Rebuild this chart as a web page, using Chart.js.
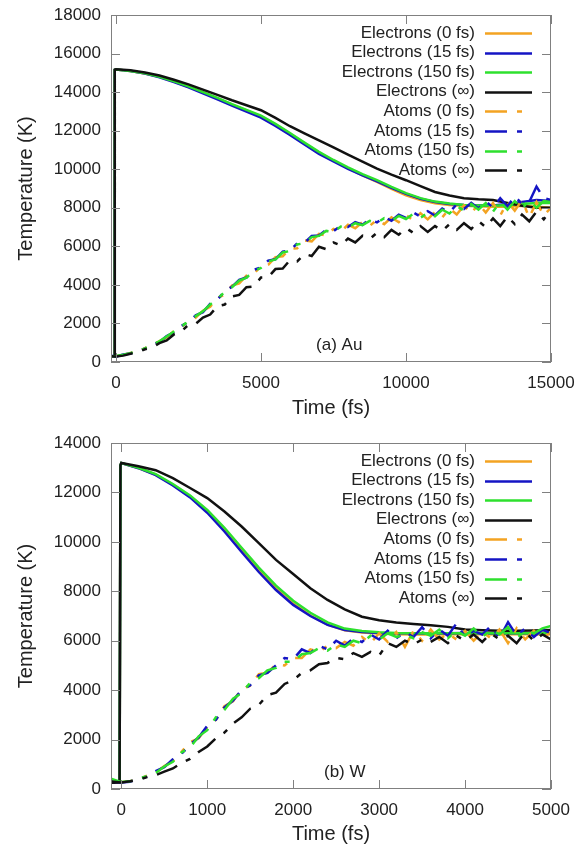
<!DOCTYPE html>
<html>
<head>
<meta charset="utf-8">
<title>Electron and atom temperatures</title>
<script src="https://cdn.jsdelivr.net/npm/chart.js@4.4.0/dist/chart.umd.min.js"></script>
<style>
  body { margin: 0; background: #fff; }
  .panel { width: 578px; height: 426px; }
  canvas { display: block; }
</style>
</head>
<body>
<div class="panel"><canvas id="auChart" width="578" height="426"></canvas></div>
<div class="panel"><canvas id="wChart" width="578" height="426"></canvas></div>
<script>
// === Series labels / colours ===
const seriesLabels = [
  "Electrons (0 fs)", "Electrons (15 fs)", "Electrons (150 fs)", "Electrons (\u221E)",
  "Atoms (0 fs)", "Atoms (15 fs)", "Atoms (150 fs)", "Atoms (\u221E)",
];
const seriesColors = ["#f3a322", "#1414c4", "#2ee02e", "#111111"];

// === (a) Au data ===
const auElecTime = [-170, -60, -40, 0, 500, 1000, 1500, 2000, 2500, 3000,
  3500, 4000, 4500, 5000, 5500, 6000, 6500, 7000, 7500, 8000,
  8500, 9000, 9500, 10000, 10500, 11000, 11500, 12000, 12500, 13000,
  13500, 14000, 14500, 15000];
const auElec0 = [300, 300, 15150, 15170, 15100, 14970, 14790, 14550, 14280, 13980,
  13680, 13350, 13050, 12740, 12310, 11840, 11340, 10860, 10440, 10050,
  9680, 9340, 8980, 8650, 8400, 8230, 8150, 8100, 8080, 8050,
  8050, 8100, 8050, 8000];
const auElec15 = [300, 300, 15150, 15170, 15090, 14960, 14770, 14520, 14250, 13940,
  13630, 13300, 12990, 12680, 12250, 11780, 11280, 10800, 10400, 10020,
  9680, 9370, 9030, 8720, 8470, 8300, 8200, 8140, 8120, 8120,
  8200, 8300, 8400, 8350];
const auElec150 = [300, 300, 15150, 15170, 15100, 14980, 14800, 14560, 14300, 14000,
  13700, 13380, 13080, 12780, 12350, 11880, 11380, 10900, 10480, 10100,
  9750, 9430, 9080, 8760, 8500, 8320, 8220, 8150, 8120, 8100,
  8150, 8200, 8250, 8250];
const auElecInf = [300, 300, 15170, 15190, 15130, 15020, 14860, 14640, 14400, 14130,
  13860, 13580, 13320, 13060, 12660, 12230, 11860, 11500, 11130, 10760,
  10400, 10030, 9720, 9430, 9120, 8820, 8640, 8500, 8440, 8400,
  8250, 8100, 8000, 8000];

const auAtomTime = [-170, 0, 250, 500, 750, 1000, 1250, 1500, 1750, 2000,
  2250, 2500, 2750, 3000, 3250, 3500, 3750, 4000, 4250, 4500,
  4750, 5000, 5250, 5500, 5750, 6000, 6250, 6500, 6750, 7000,
  7250, 7500, 7750, 8000, 8250, 8500, 8750, 9000, 9250, 9500,
  9750, 10000, 10250, 10500, 10750, 11000, 11250, 11500, 11750, 12000,
  12250, 12500, 12750, 13000, 13250, 13500, 13750, 14000, 14250, 14500,
  14750, 15000];
const auAtom0 = [300, 300, 370, 470, 540, 720, 850, 1090, 1270, 1600,
  1790, 2140, 2300, 2660, 2870, 3320, 3500, 3960, 4080, 4480,
  4560, 4980, 5040, 5440, 5480, 5880, 5900, 6300, 6260, 6650,
  6560, 6900, 6760, 7120, 6940, 7260, 7060, 7380, 7150, 7500,
  7250, 7620, 7350, 7720, 7400, 7780, 7500, 7960, 7650, 8120,
  7700, 8200, 7750, 8250, 7600, 8300, 7850, 8400, 7500, 8300,
  7600, 8000];
const auAtom15 = [320, 280, 390, 440, 590, 690, 910, 1040, 1350, 1540,
  1880, 2060, 2420, 2580, 3020, 3230, 3680, 3900, 4260, 4380,
  4780, 4900, 5260, 5330, 5720, 5780, 6160, 6180, 6540, 6560,
  6860, 6780, 7060, 7000, 7260, 7120, 7400, 7240, 7520, 7330,
  7640, 7480, 7760, 7540, 7820, 7600, 7960, 7760, 8180, 7940,
  8260, 7960, 8350, 8000, 8500, 8080, 8600, 8200, 8300, 9100,
  8500, 8400];
const auAtom150 = [300, 310, 380, 460, 570, 710, 880, 1070, 1320, 1580,
  1840, 2110, 2380, 2630, 2980, 3260, 3640, 3880, 4220, 4380,
  4720, 4880, 5220, 5320, 5680, 5760, 6100, 6160, 6480, 6540,
  6800, 6750, 7020, 6960, 7200, 7100, 7320, 7220, 7460, 7320,
  7580, 7420, 7680, 7480, 7740, 7560, 7900, 7700, 8100, 7850,
  8200, 7900, 8250, 7800, 8300, 7900, 8350, 7950, 8400, 8000,
  8350, 8300];
const auAtomInf = [300, 280, 330, 430, 500, 660, 760, 980, 1120, 1430,
  1580, 1930, 1980, 2300, 2460, 2900, 2980, 3400, 3480, 3880,
  3920, 4380, 4400, 4820, 4850, 5280, 5220, 5600, 5500, 5980,
  5850, 6200, 6050, 6400, 6200, 6550, 6380, 6700, 6480, 6850,
  6600, 6950, 6700, 7050, 6750, 7050, 6800, 7150, 6850, 7200,
  6900, 7300, 7000, 7450, 7050, 7550, 7150, 7650, 7300, 7800,
  7400, 7900];

// === (b) W data ===
const wElecTime = [-120, -20, -10, 0, 200, 400, 600, 800, 1000, 1200,
  1400, 1600, 1800, 2000, 2200, 2400, 2600, 2800, 3000, 3200,
  3400, 3600, 3800, 4000, 4200, 4400, 4600, 4800, 5000];
const wElec0 = [250, 250, 13100, 13190, 12990, 12720, 12310, 11840, 11230, 10490,
  9680, 8870, 8120, 7500, 7020, 6650, 6420, 6330, 6290, 6260,
  6250, 6250, 6260, 6270, 6260, 6250, 6260, 6270, 6260];
const wElec15 = [250, 250, 13100, 13190, 12980, 12700, 12280, 11800, 11180, 10420,
  9590, 8780, 8050, 7450, 7000, 6640, 6430, 6350, 6310, 6300,
  6300, 6290, 6300, 6310, 6300, 6290, 6300, 6300, 6300];
const wElec150 = [250, 250, 13100, 13190, 13000, 12740, 12340, 11880, 11290, 10570,
  9760, 8960, 8230, 7620, 7130, 6740, 6490, 6390, 6340, 6310,
  6300, 6300, 6300, 6300, 6300, 6300, 6300, 6300, 6300];
const wElecInf = [250, 250, 13100, 13190, 13060, 12900, 12580, 12180, 11770, 11230,
  10620, 9950, 9270, 8700, 8120, 7650, 7270, 6970, 6830, 6740,
  6680, 6630, 6560, 6450, 6420, 6400, 6400, 6410, 6430];

const wAtomTime = [-120, 0, 100, 200, 300, 400, 500, 600, 700, 800,
  900, 1000, 1100, 1200, 1300, 1400, 1500, 1600, 1700, 1800,
  1900, 2000, 2100, 2200, 2300, 2400, 2500, 2600, 2700, 2800,
  2900, 3000, 3100, 3200, 3300, 3400, 3500, 3600, 3700, 3800,
  3900, 4000, 4100, 4200, 4300, 4400, 4500, 4600, 4700, 4800,
  4900, 5000];
const wAtom0 = [300, 270, 310, 390, 540, 660, 930, 1130, 1500, 1900,
  2050, 2500, 2800, 3350, 3550, 4050, 4180, 4650, 4700, 5050,
  5000, 5300, 5300, 5650, 5550, 5800, 5700, 5950, 5800, 6150,
  5900, 6300, 5950, 6350, 5750, 6400, 6000, 6450, 6050, 6300,
  6050, 6400, 6000, 6350, 6100, 6450, 5900, 6500, 6050, 6400,
  6100, 6350];
const wAtom15 = [300, 260, 290, 420, 500, 720, 880, 1200, 1420, 1800,
  2080, 2560, 2800, 3300, 3580, 4000, 4200, 4600, 4700, 5000,
  5300, 5250, 5650, 5500, 5800, 5650, 6000, 5800, 6100, 5950,
  6250, 6050, 6400, 6100, 6350, 6150, 6550, 6100, 6450, 6200,
  6700, 6150, 6400, 6250, 6600, 6100, 6750, 6200, 6500, 6150,
  6450, 6300];
const wAtom150 = [420, 280, 310, 410, 520, 650, 910, 1100, 1480, 1680,
  2130, 2380, 2900, 3200, 3650, 3880, 4300, 4480, 4800, 4900,
  5150, 5150, 5450, 5500, 5700, 5600, 5850, 5750, 6000, 5900,
  6200, 6050, 6300, 6150, 6250, 6100, 6350, 6200, 6450, 6100,
  6400, 6200, 6500, 6150, 6450, 6250, 6550, 6100, 6400, 6300,
  6500, 6600];
const wAtomInf = [300, 260, 310, 380, 480, 560, 700, 830, 1050, 1220,
  1500, 1720, 2050, 2280, 2650, 2900, 3250, 3400, 3800, 3900,
  4250, 4400, 4700, 4800, 5050, 5100, 5300, 5250, 5500, 5350,
  5550, 5400, 5900, 5750, 6000, 5850, 6050, 5950, 6150, 5900,
  6200, 6000, 6250, 5950, 6300, 6050, 6200, 5900, 6350, 6000,
  6250, 6050];

// === Axis ranges / tick values ===
const auXRange = [-170, 15000];
const auYRange = [0, 18000];
const auXTicks = [0, 5000, 10000, 15000];
const auYTicks = [0, 2000, 4000, 6000, 8000, 10000, 12000, 14000, 16000, 18000];
const wXRange = [-120, 5000];
const wYRange = [0, 14000];
const wXTicks = [0, 1000, 2000, 3000, 4000, 5000];
const wYTicks = [0, 2000, 4000, 6000, 8000, 10000, 12000, 14000];

const TEXT = "#222";
const FONT = "'Liberation Sans', Arial, sans-serif";
const atomDash = [22, 10, 5, 10];

function toPoints(times, vals) {
  return vals.map((v, i) => ({ x: times[i], y: v }));
}

// === Frame + inward tick marks ===
const frameTicks = {
  id: "frameTicks",
  afterDatasetsDraw(chart) {
    const { ctx, chartArea: a, scales } = chart;
    ctx.save();
    ctx.strokeStyle = "#808080";
    ctx.lineWidth = 1;
    ctx.strokeRect(Math.round(a.left) + 0.5, Math.round(a.top) + 0.5,
      Math.round(a.width) - 1, Math.round(a.height) - 1);
    ctx.beginPath();
    scales.x.ticks.forEach((t) => {
      const px = Math.round(scales.x.getPixelForValue(t.value)) + 0.5;
      ctx.moveTo(px, a.bottom); ctx.lineTo(px, a.bottom - 9);
      ctx.moveTo(px, a.top); ctx.lineTo(px, a.top + 9);
    });
    scales.y.ticks.forEach((t) => {
      const py = Math.round(scales.y.getPixelForValue(t.value)) + 0.5;
      ctx.moveTo(a.left, py); ctx.lineTo(a.left + 9, py);
      ctx.moveTo(a.right, py); ctx.lineTo(a.right - 9, py);
    });
    ctx.stroke();
    ctx.restore();
  },
};

// === Key in the upper right, text then line sample ===
const sideKey = {
  id: "sideKey",
  afterDraw(chart) {
    const { ctx, chartArea: a } = chart;
    ctx.save();
    ctx.font = "17px " + FONT;
    ctx.fillStyle = TEXT;
    ctx.textAlign = "right";
    ctx.textBaseline = "middle";
    chart.data.datasets.forEach((ds, i) => {
      const y = a.top + 18 + i * 19.6;
      ctx.fillText(ds.label, a.right - 76, y);
      ctx.strokeStyle = ds.borderColor;
      ctx.lineWidth = ds.borderWidth;
      ctx.setLineDash(ds.borderDash || []);
      ctx.beginPath();
      ctx.moveTo(a.right - 66, Math.round(y) + 0.5);
      ctx.lineTo(a.right - 19, Math.round(y) + 0.5);
      ctx.stroke();
    });
    ctx.restore();
  },
};

// === Panel label "(a) Au" ===
const panelLabel = {
  id: "panelLabel",
  afterDraw(chart, args, opts) {
    const { ctx, scales } = chart;
    ctx.save();
    ctx.font = "17px " + FONT;
    ctx.fillStyle = TEXT;
    ctx.textAlign = "center";
    ctx.textBaseline = "middle";
    ctx.fillText(opts.text, scales.x.getPixelForValue(opts.x), scales.y.getPixelForValue(opts.y));
    ctx.restore();
  },
};

function buildDatasets(elecT, elec, atomT, atoms) {
  const sets = [];
  elec.forEach((vals, i) => {
    sets.push({
      label: seriesLabels[i],
      data: toPoints(elecT, vals),
      borderColor: seriesColors[i],
      borderWidth: 2.5,
      order: 8 - i,
    });
  });
  atoms.forEach((vals, i) => {
    sets.push({
      label: seriesLabels[i + 4],
      data: toPoints(atomT, vals),
      borderColor: seriesColors[i],
      borderWidth: 2.5,
      borderDash: atomDash,
      order: 4 - i,
    });
  });
  return sets;
}

function fixedTicks(values) {
  return (s) => { s.ticks = values.map((v) => ({ value: v })); };
}

function makeChart(id, datasets, xRange, yRange, xTicks, yTicks, topPad, xHeight, label) {
  return new Chart(document.getElementById(id), {
    type: "line",
    data: { datasets },
    options: {
      responsive: false,
      animation: false,
      layout: { padding: { top: topPad, right: 27, left: 0, bottom: 0 } },
      elements: { point: { radius: 0 }, line: { tension: 0, fill: false } },
      plugins: {
        legend: { display: false },
        tooltip: { enabled: false },
        panelLabel: label,
      },
      scales: {
        x: {
          type: "linear",
          min: xRange[0],
          max: xRange[1],
          grid: { display: false, drawTicks: false },
          border: { display: false },
          ticks: {
            autoSkip: false, maxRotation: 0, padding: 11, color: TEXT,
            font: { size: 17, family: FONT },
            callback: (v) => String(v),
          },
          afterBuildTicks: fixedTicks(xTicks),
          afterFit: (s) => { s.height = xHeight; s.paddingLeft = 0; s.paddingRight = 0; },
          title: {
            display: true, text: "Time (fs)", color: TEXT,
            font: { size: 20, family: FONT }, padding: { top: 0, bottom: 6 },
          },
        },
        y: {
          min: yRange[0],
          max: yRange[1],
          grid: { display: false, drawTicks: false },
          border: { display: false },
          ticks: {
            autoSkip: false, padding: 10, color: TEXT,
            font: { size: 17, family: FONT },
            callback: (v) => String(v),
          },
          afterBuildTicks: fixedTicks(yTicks),
          afterFit: (s) => { s.width = 111; s.paddingTop = 0; s.paddingBottom = 0; },
          title: {
            display: true, text: "Temperature (K)", color: TEXT,
            font: { size: 20, family: FONT }, padding: { top: 14, bottom: 0 },
          },
        },
      },
    },
    plugins: [frameTicks, sideKey, panelLabel],
  });
}

// === Render ===
makeChart("auChart",
  buildDatasets(auElecTime, [auElec0, auElec15, auElec150, auElecInf],
    auAtomTime, [auAtom0, auAtom15, auAtom150, auAtomInf]),
  auXRange, auYRange, auXTicks, auYTicks, 15, 64, { text: "(a) Au", x: 7700, y: 870 });

makeChart("wChart",
  buildDatasets(wElecTime, [wElec0, wElec15, wElec150, wElecInf],
    wAtomTime, [wAtom0, wAtom15, wAtom150, wAtomInf]),
  wXRange, wYRange, wXTicks, wYTicks, 17, 63, { text: "(b) W", x: 2600, y: 680 });
</script>
</body>
</html>
